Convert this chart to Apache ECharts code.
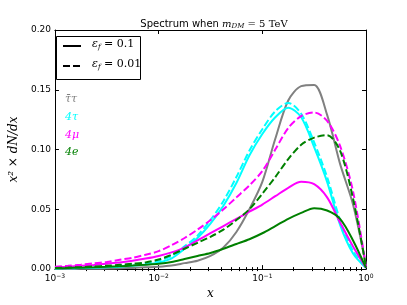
<!DOCTYPE html>
<html><head><meta charset="utf-8">
<script src="https://cdn.jsdelivr.net/npm/echarts@6/dist/echarts.min.js"></script>
<style>html,body{margin:0;padding:0;background:#fff}#c{width:407px;height:305px}</style>
</head><body><div id="c"></div>
<script>
// x positions (log axis), evenly spaced in log10 x from 1e-3 to 1
const xValues = [0.001, 0.001334, 0.001778, 0.002371, 0.003162, 0.004217, 0.005623, 0.007499,
  0.01, 0.01334, 0.01778, 0.02371, 0.03162, 0.04217, 0.05623, 0.07499,
  0.1, 0.1334, 0.1778, 0.2371, 0.3162, 0.4217, 0.5623, 0.7499, 1.0];
// eps_f = 0.1 (solid)
const tautauSolid = [0.0, 0.0001, 0.0002, 0.0003, 0.0005, 0.0007, 0.001, 0.0015,
  0.002, 0.003, 0.005, 0.007, 0.011, 0.018, 0.031, 0.050,
  0.073, 0.109, 0.141, 0.153, 0.154, 0.129, 0.088, 0.054, 0.003];
const fourTauSolid = [0.0005, 0.0007, 0.0009, 0.0012, 0.0016, 0.002, 0.0028, 0.0038,
  0.0055, 0.009, 0.017, 0.026, 0.038, 0.053, 0.072, 0.095,
  0.113, 0.127, 0.135, 0.127, 0.102, 0.073, 0.037, 0.013, 0.001];
const fourMuSolid = [0.0015, 0.002, 0.0027, 0.0035, 0.0045, 0.0055, 0.007, 0.0088,
  0.011, 0.014, 0.018, 0.024, 0.030, 0.036, 0.042, 0.048,
  0.054, 0.061, 0.068, 0.073, 0.071, 0.060, 0.039, 0.019, 0.001];
const fourESolid = [0.0007, 0.0009, 0.0012, 0.0015, 0.0019, 0.0024, 0.003, 0.0037,
  0.0045, 0.006, 0.0085, 0.011, 0.0135, 0.017, 0.021, 0.025,
  0.030, 0.036, 0.042, 0.047, 0.051, 0.049, 0.042, 0.024, 0.001];
// eps_f = 0.01 (dashed)
const fourTauDashed = [0.0008, 0.001, 0.0013, 0.0017, 0.0022, 0.003, 0.004, 0.005,
  0.007, 0.011, 0.019, 0.028, 0.041, 0.057, 0.077, 0.099,
  0.117, 0.132, 0.139, 0.130, 0.106, 0.077, 0.041, 0.015, 0.001];
const fourMuDashed = [0.002, 0.0028, 0.0037, 0.0048, 0.006, 0.0078, 0.0095, 0.012,
  0.015, 0.020, 0.026, 0.033, 0.041, 0.050, 0.060, 0.070,
  0.082, 0.100, 0.118, 0.128, 0.131, 0.124, 0.103, 0.065, 0.002];
const fourEDashed = [0.001, 0.0013, 0.0017, 0.0022, 0.0028, 0.0036, 0.0045, 0.0056,
  0.008, 0.012, 0.017, 0.022, 0.027, 0.033, 0.041, 0.050,
  0.063, 0.077, 0.092, 0.104, 0.110, 0.112, 0.099, 0.059, 0.002];
// tick labels
const yTicks = ['0.00', '0.05', '0.10', '0.15', '0.20'];

const pairs = arr => xValues.map((x, i) => [x, arr[i]]);
const minorTicks = [];
for (let d = -3; d < 0; d++) for (let k = 2; k <= 9; k++) minorTicks.push(k * Math.pow(10, d));

function mk(name, data, color, dashed) {
  return {
    name: name, type: 'line', data: pairs(data), showSymbol: false, symbol: 'none',
    smooth: 0.3, clip: true,
    lineStyle: { color: color, width: 2, type: dashed ? [7, 3] : 'solid' },
    itemStyle: { color: color }, z: 3
  };
}

const serif = '"DejaVu Serif", "Liberation Serif", serif';
const sans = '"DejaVu Sans", sans-serif';

const chart = echarts.init(document.getElementById('c'), null, { renderer: 'canvas' });
const baseX = {
  type: 'log', logBase: 10, min: 0.001, max: 1, gridIndex: 0,
  axisLine: { show: true, onZero: false, lineStyle: { color: '#000', width: 1 } },
  splitLine: { show: false }
};
const baseY = {
  type: 'value', min: 0, max: 0.2, interval: 0.05,
  axisLine: { show: true, onZero: false, lineStyle: { color: '#000', width: 1 } },
  splitLine: { show: false }
};
chart.setOption({
  animation: false,
  title: {
    text: '{a|Spectrum when }{m|m}{s|DM}{e| = 5 TeV}',
    left: 209, top: 14, textAlign: 'center',
    textStyle: {
      fontWeight: 'normal',
      rich: {
        a: { fontFamily: sans, fontSize: 10, fontWeight: 'normal', color: '#000' },
        m: { fontFamily: serif, fontStyle: 'italic', fontWeight: 'normal', fontSize: 10, color: '#000' },
        s: { fontFamily: serif, fontStyle: 'italic', fontWeight: 'normal', fontSize: 7, color: '#000', verticalAlign: 'bottom', padding: [4, 0, 0, 0] },
        e: { fontFamily: serif, fontWeight: 'normal', fontSize: 10, color: '#000' }
      }
    }
  },
  grid: { left: 51, right: 41, top: 30, bottom: 31 },
  xAxis: [
    Object.assign({}, baseX, {
      position: 'bottom',
      axisTick: { show: true, inside: true, length: 4, lineStyle: { color: '#000' } },
      axisLabel: {
        show: true, margin: 4,
        formatter: v => {
          const e = Math.round(Math.log10(v));
          return '{b|10}{s|' + (e < 0 ? '\u2212' + (-e) : e) + '}';
        },
        rich: {
          b: { fontFamily: sans, fontSize: 9, color: '#000' },
          s: { fontFamily: sans, fontSize: 6, color: '#000', verticalAlign: 'top', padding: [0, 0, 5, 0] }
        }
      },
      name: 'x', nameLocation: 'middle', nameGap: 16,
      nameTextStyle: { fontFamily: serif, fontStyle: 'italic', fontSize: 12, color: '#000' }
    }),
    Object.assign({}, baseX, {
      position: 'bottom',
      axisLine: { show: false },
      axisTick: { show: true, inside: true, length: 2, customValues: minorTicks, lineStyle: { color: '#000' } },
      axisLabel: { show: false }
    }),
    Object.assign({}, baseX, {
      position: 'top',
      axisTick: { show: true, inside: true, length: 4, lineStyle: { color: '#000' } },
      axisLabel: { show: false }
    }),
    Object.assign({}, baseX, {
      position: 'top',
      axisLine: { show: false },
      axisTick: { show: true, inside: true, length: 2, customValues: minorTicks, lineStyle: { color: '#000' } },
      axisLabel: { show: false }
    })
  ],
  yAxis: [
    Object.assign({}, baseY, {
      position: 'left',
      axisTick: { show: true, inside: true, length: 4, lineStyle: { color: '#000' } },
      axisLabel: {
        show: true, margin: 4, fontFamily: sans, fontSize: 9, color: '#000',
        formatter: v => yTicks[Math.round(v / 0.05)]
      },
      name: 'x\u00B2 \u00D7 dN/dx', nameLocation: 'middle', nameGap: 27, nameRotate: 90,
      nameTextStyle: { fontFamily: serif, fontStyle: 'italic', fontSize: 12, color: '#000' }
    }),
    Object.assign({}, baseY, {
      position: 'right',
      axisTick: { show: true, inside: true, length: 4, lineStyle: { color: '#000' } },
      axisLabel: { show: false }
    })
  ],
  series: [
    mk('tautau_01', tautauSolid, '#808080', false),
    mk('4tau_01', fourTauSolid, '#00ffff', false),
    mk('4tau_001', fourTauDashed, '#00ffff', true),
    mk('4mu_001', fourMuDashed, '#ff00ff', true),
    mk('4mu_01', fourMuSolid, '#ff00ff', false),
    mk('4e_001', fourEDashed, '#008000', true),
    mk('4e_01', fourESolid, '#008000', false)
  ],
  graphic: [
    { type: 'rect', left: 56, top: 36, shape: { width: 84, height: 43 }, style: { fill: '#fff', stroke: '#000', lineWidth: 1 }, z: 10 },
    { type: 'line', shape: { x1: 63, y1: 46, x2: 81, y2: 46 }, style: { stroke: '#000', lineWidth: 2 }, z: 11 },
    { type: 'line', shape: { x1: 63, y1: 66, x2: 81, y2: 66 }, style: { stroke: '#000', lineWidth: 2, lineDash: [7, 3] }, z: 11 },
    { type: 'text', left: 92, top: 39, z: 11, style: { text: '{e|\u03B5}{s|f}{t| = 0.1}', rich: {
      e: { fontFamily: serif, fontStyle: 'italic', fontSize: 11, fill: '#000' },
      s: { fontFamily: serif, fontStyle: 'italic', fontSize: 7, fill: '#000', verticalAlign: 'bottom', padding: [5, 0, 0, 0] },
      t: { fontFamily: serif, fontSize: 11, fill: '#000' } } } },
    { type: 'text', left: 92, top: 59, z: 11, style: { text: '{e|\u03B5}{s|f}{t| = 0.01}', rich: {
      e: { fontFamily: serif, fontStyle: 'italic', fontSize: 11, fill: '#000' },
      s: { fontFamily: serif, fontStyle: 'italic', fontSize: 7, fill: '#000', verticalAlign: 'bottom', padding: [5, 0, 0, 0] },
      t: { fontFamily: serif, fontSize: 11, fill: '#000' } } } },
    { type: 'text', left: 65, top: 94, z: 11, style: { text: '\u03C4\u0304\u03C4', fontFamily: serif, fontStyle: 'italic', fontSize: 11, fill: '#808080' } },
    { type: 'text', left: 65, top: 112, z: 11, style: { text: '4\u03C4', fontFamily: serif, fontStyle: 'italic', fontSize: 11, fill: '#00ffff' } },
    { type: 'text', left: 65, top: 130, z: 11, style: { text: '4\u03BC', fontFamily: serif, fontStyle: 'italic', fontSize: 11, fill: '#ff00ff' } },
    { type: 'text', left: 65, top: 147, z: 11, style: { text: '4e', fontFamily: serif, fontStyle: 'italic', fontSize: 11, fill: '#008000' } }
  ]
});
</script>
</body></html>
